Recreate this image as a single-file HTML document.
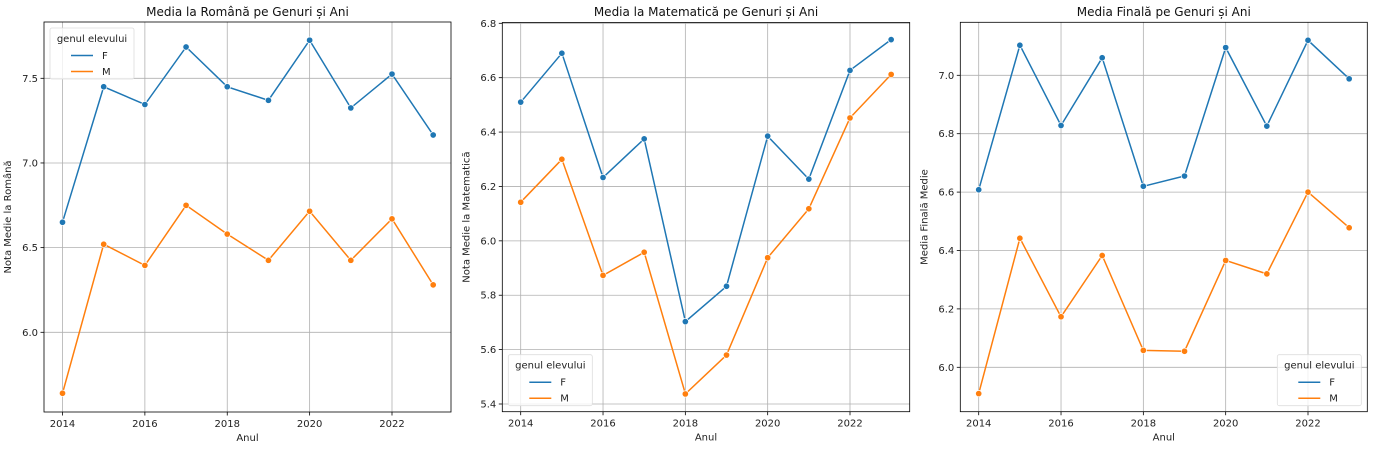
<!DOCTYPE html>
<html><head><meta charset="utf-8">
<style>
html,body{margin:0;padding:0;background:#fff;}
svg{display:block;font-family:"DejaVu Sans","Liberation Sans",sans-serif;}
</style></head>
<body>
<svg id="chart" width="1374" height="451" viewBox="0 0 1374 451" xmlns="http://www.w3.org/2000/svg"></svg>
<script>
const years = [2014,2015,2016,2017,2018,2019,2020,2021,2022,2023];
const xTicks = [2014,2016,2018,2020,2022];
const romanaF = [6.65,7.45,7.345,7.685,7.45,7.37,7.725,7.325,7.525,7.165];
const romanaM = [5.64,6.52,6.395,6.75,6.58,6.425,6.715,6.425,6.67,6.28];
const romanaTicks = [6.0,6.5,7.0,7.5];
const mateF = [6.51,6.69,6.233,6.375,5.703,5.833,6.385,6.227,6.627,6.74];
const mateM = [6.142,6.30,5.873,5.958,5.437,5.58,5.938,6.118,6.452,6.612];
const mateTicks = [5.4,5.6,5.8,6.0,6.2,6.4,6.6,6.8];
const finalF = [6.608,7.103,6.828,7.06,6.62,6.655,7.095,6.826,7.12,6.988];
const finalM = [5.91,6.442,6.173,6.383,6.058,6.055,6.366,6.32,6.6,6.478];
const finalTicks = [6.0,6.2,6.4,6.6,6.8,7.0];

const NS='http://www.w3.org/2000/svg';
const svg=document.getElementById('chart');
function mk(tag,attrs,parent){const e=document.createElementNS(NS,tag);for(const k in attrs)e.setAttribute(k,attrs[k]);(parent||svg).appendChild(e);return e;}

const panels=[
 {key:'romana',title:'Media la Română pe Genuri și Ani',ylabel:'Nota Medie la Română',F:romanaF,M:romanaM,ticks:romanaTicks,
  L:44,R:451,T:22,B:412,x0:62.5,x1:392,yv0:6.0,yp0:332.3,yv1:7.5,yp1:78.3,legend:'tl',fmt:1},
 {key:'matematica',title:'Media la Matematică pe Genuri și Ani',ylabel:'Nota Medie la Matematică',F:mateF,M:mateM,ticks:mateTicks,
  L:502.3,R:909.7,T:22.5,B:411.7,x0:520.7,x1:850,yv0:5.4,yp0:404,yv1:6.8,yp1:23.3,legend:'bl',fmt:1},
 {key:'finala',title:'Media Finală pe Genuri și Ani',ylabel:'Media Finală Medie',F:finalF,M:finalM,ticks:finalTicks,
  L:960.3,R:1367.3,T:22.3,B:411.7,x0:978.7,x1:1308,yv0:6.0,yp0:367.3,yv1:7.0,yp1:75.3,legend:'br',fmt:1}
];
const colF='#1f77b4', colM='#ff7f0e';

panels.forEach(p=>{
  const g=mk('g',{});
  
  
  const xs=v=>p.x0+(v-2014)*(p.x1-p.x0)/8;
  const ys=v=>p.yp0+(v-p.yv0)*(p.yp1-p.yp0)/(p.yv1-p.yv0);
  xTicks.forEach(t=>{
    const l=mk('line',{x1:xs(t),x2:xs(t),y1:p.T,y2:p.B,stroke:'#b0b0b0','stroke-width':0.8},g);
    
    
    mk('line',{x1:xs(t),x2:xs(t),y1:p.B,y2:p.B+3.5,stroke:'#000','stroke-width':0.8},g);
    const tx=mk('text',{x:xs(t),y:p.B+15,'text-anchor':'middle','font-size':10,fill:'#222'},g);
    tx.textContent=t;
    
    
  });
  p.ticks.forEach(t=>{
    const l=mk('line',{x1:p.L,x2:p.R,y1:ys(t),y2:ys(t),stroke:'#b0b0b0','stroke-width':0.8},g);
    
    
    mk('line',{x1:p.L-3.5,x2:p.L,y1:ys(t),y2:ys(t),stroke:'#000','stroke-width':0.8},g);
    const tx=mk('text',{x:p.L-6,y:ys(t)+3.5,'text-anchor':'end','font-size':10,fill:'#222'},g);
    tx.textContent=t.toFixed(p.fmt);
    
    
  });
  [['F',p.F,colF],['M',p.M,colM]].forEach(([nm,arr,c])=>{
    const pts=arr.map((v,i)=>xs(years[i]).toFixed(1)+','+ys(v).toFixed(1)).join(' ');
    const pl=mk('polyline',{points:pts,fill:'none',stroke:c,'stroke-width':1.5},g);
    
    
    arr.forEach((v,i)=>{
      const ci=mk('circle',{cx:xs(years[i]),cy:ys(v),r:3.2,fill:c,stroke:'#fff','stroke-width':0.7},g);
      
      
    });
  });
  const fr=mk('rect',{x:p.L,y:p.T,width:p.R-p.L,height:p.B-p.T,fill:'none',stroke:'#000','stroke-width':0.8},g);
  
  
  const ti=mk('text',{x:(p.L+p.R)/2,y:16,'text-anchor':'middle','font-size':12,fill:'#111'},g);
  ti.textContent=p.title;
  
  
  const xl=mk('text',{x:(p.L+p.R)/2,y:p.B+29,'text-anchor':'middle','font-size':10,fill:'#222'},g);
  xl.textContent='Anul';
  
  
  const yc=(p.T+p.B)/2;
  const yl=mk('text',{x:p.L-33,y:yc,'text-anchor':'middle','font-size':10,fill:'#222',transform:'rotate(-90 '+(p.L-33)+' '+yc+')'},g);
  yl.textContent=p.ylabel;
  
  
  const lw=84, lh=51;
  let lx,ly;
  if(p.legend==='tl'){lx=p.L+6;ly=p.T+6;}
  else if(p.legend==='bl'){lx=p.L+6;ly=p.B-6-lh;}
  else {lx=p.R-6-lw;ly=p.B-6-lh;}
  const lg=mk('g',{},g);
  
  
  mk('rect',{x:lx,y:ly,width:lw,height:lh,rx:2,fill:'#fff','fill-opacity':0.8,stroke:'#ddd','stroke-width':0.8},lg);
  const lt=mk('text',{x:lx+lw/2,y:ly+14,'text-anchor':'middle','font-size':10,fill:'#222'},lg);
  lt.textContent='genul elevului';
  
  
  [['F',colF],['M',colM]].forEach(([nm,c],i)=>{
    const yy=ly+31+i*16;
    const e=mk('g',{},lg);
    
    
    mk('line',{x1:lx+21,x2:lx+43,y1:yy-3.5,y2:yy-3.5,stroke:c,'stroke-width':1.5},e);
    const t=mk('text',{x:lx+52,y:yy,'font-size':10,fill:'#222'},e);
    t.textContent=nm;
  });
});
</script>
</body></html>
